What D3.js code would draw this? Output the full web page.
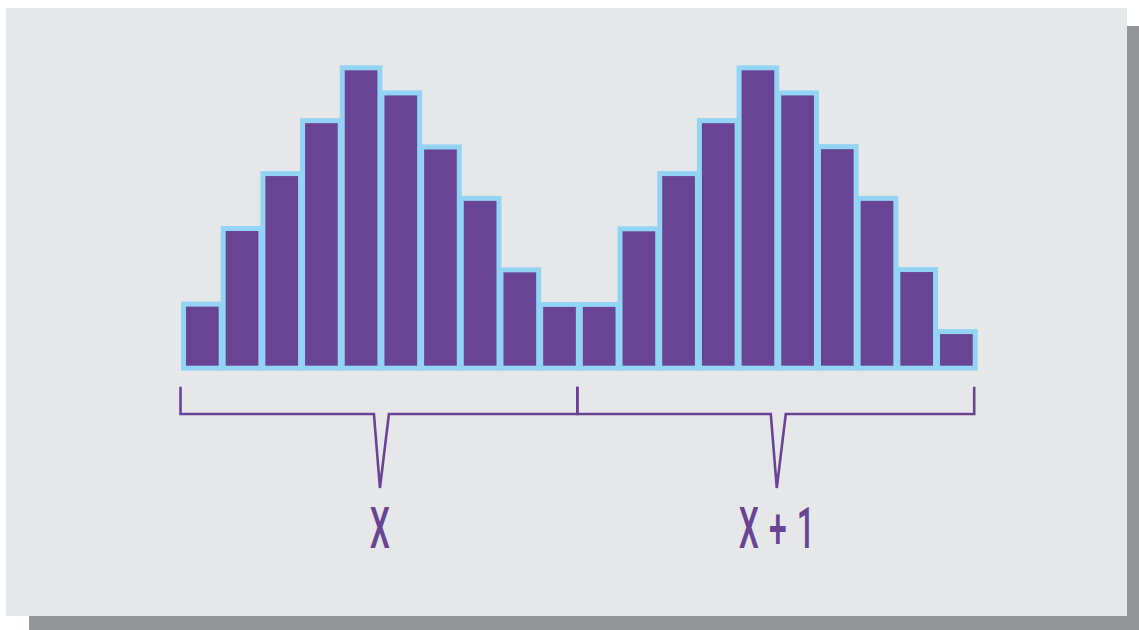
<!DOCTYPE html>
<html>
<head>
<meta charset="utf-8">
<script src="https://cdn.jsdelivr.net/npm/d3@7"></script>
<style>
  body { margin: 0; background: #ffffff; }
  svg { display: block; }
</style>
</head>
<body>
<div id="chart"></div>
<script>
// bar heights, as % of the tallest bar
var barValues = [20, 45.6, 64.2, 82.1, 100, 91.5, 73.2, 55.8, 31.6, 19.9,
                 19.9, 45.5, 64.2, 82.1, 100, 91.5, 73.3, 55.8, 31.7, 10.7];
var barIds = d3.range(barValues.length);
// the two braces under the bars: label, first bar, bar after the last
var groupLabels = ['X', 'X+1'];
var groupStart = [0, 10];
var groupEnd = [10, 20];

var width = 1139, height = 630;
var purple = '#6a4494', blue = '#93d4f4';

var svg = d3.select('#chart')
    .append('svg')
    .attr('width', width)
    .attr('height', height);

// card shadow + card
svg.append('rect').attr('x', 29).attr('y', 26).attr('width', width - 29).attr('height', height - 26).attr('fill', '#939598');
svg.append('rect').attr('x', 6).attr('y', 8).attr('width', 1121).attr('height', 608).attr('fill', '#e6e7e8');

var x = d3.scaleBand()
    .domain(barIds)
    .range([182.5, 976.2])
    .padding(0);

var y = d3.scaleLinear()
    .domain([0, 100])
    .range([365.7, 70.3]);

// light blue outline layer (drawn first so neighbours merge)
svg.append('g').selectAll('rect')
    .data(barValues)
    .enter()
    .append('rect')
    .attr('x', function (d, i) { return x(i) - 1.5; })
    .attr('y', function (d) { return y(d) - 5; })
    .attr('width', x.bandwidth() + 3)
    .attr('height', function (d) { return y(0) - y(d) + 10; })
    .attr('fill', blue);

// purple bars
svg.append('g').selectAll('rect')
    .data(barValues)
    .enter()
    .append('rect')
    .attr('x', function (d, i) { return x(i) + 3.5; })
    .attr('y', function (d) { return y(d); })
    .attr('width', x.bandwidth() - 7)
    .attr('height', function (d) { return y(0) - y(d); })
    .attr('fill', purple);

// braces
var braceTop = 386.7, braceY = 414, tipY = 488;
function edge(i) { return (i < barValues.length ? x(i) : x(i - 1) + x.bandwidth()) - 2; }

var groups = groupLabels.map(function (label, k) {
    return { label: label, x0: edge(groupStart[k]), x1: edge(groupEnd[k]) };
});

var brace = svg.append('g')
    .attr('fill', 'none')
    .attr('stroke', purple)
    .attr('stroke-width', 2.6);

brace.selectAll('path')
    .data(groups)
    .enter()
    .append('path')
    .attr('d', function (d) {
        var c = (d.x0 + d.x1) / 2;
        var p = d3.path();
        p.moveTo(d.x0, braceTop);
        p.lineTo(d.x0, braceY);
        p.lineTo(c - 5, braceY);
        p.lineTo(c + 1, tipY);
        p.lineTo(c + 10, braceY);
        p.lineTo(d.x1, braceY);
        p.lineTo(d.x1, braceTop);
        return p.toString();
    });

// labels, in a narrow condensed look
svg.append('g').selectAll('text')
    .data(groups)
    .enter()
    .append('text')
    .attr('transform', function (d) {
        return 'translate(' + ((d.x0 + d.x1) / 2 + 1) + ',548) scale(0.56,1)';
    })
    .attr('text-anchor', 'middle')
    .attr('font-family', 'Roboto, sans-serif')
    .attr('font-weight', 500)
    .attr('font-size', 57)
    .attr('letter-spacing', function (d) { return d.label.length > 1 ? 18 : 0; })
    .attr('dx', function (d) { return d.label.length > 1 ? 9 : 0; })
    .attr('fill', purple)
    .text(function (d) { return d.label; });
</script>
</body>
</html>
